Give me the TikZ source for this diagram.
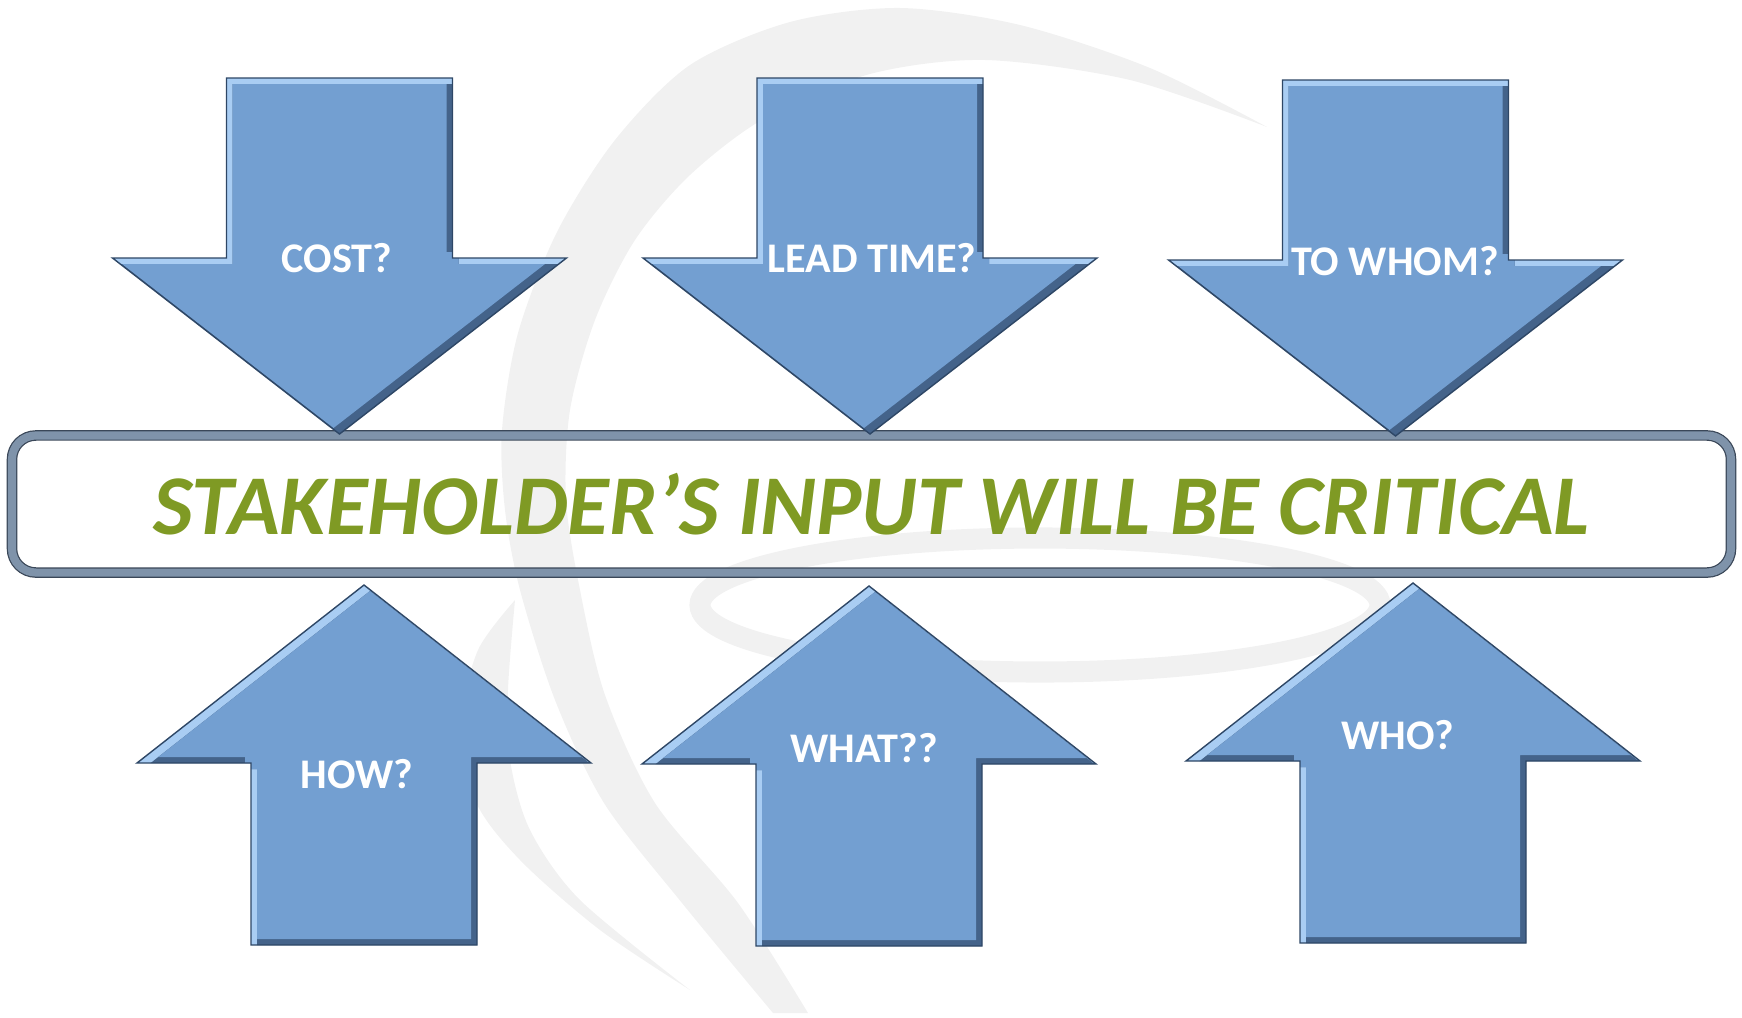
\documentclass[tikz,border=0pt]{standalone}
\usepackage{fontspec}
\setmainfont{Carlito}
\usepackage{tikz}
\usetikzlibrary{positioning}

\definecolor{arrowblue}{HTML}{739FD1}
\definecolor{arrowlight}{HTML}{A9CDF3}
\definecolor{arrowdark}{HTML}{44638A}
\definecolor{arrowedge}{HTML}{2E4766}
\definecolor{framecol}{HTML}{7F93AA}
\definecolor{framedark}{HTML}{3A4758}
\definecolor{textgreen}{HTML}{7F9A24}
\definecolor{wmark}{HTML}{F1F1F1}

\tikzstyle{qlabel} = [text=white, inner sep=0pt, font=\fontsize{12}{14}\selectfont\bfseries]
\tikzstyle{banner} = [draw=framedark, double=framecol, double distance=2.3pt, line width=0.35pt,
  rounded corners=6.8pt, minimum width=17.18cm, minimum height=1.37cm, inner sep=0pt,
  text=textgreen, font=\fontsize{24.2}{28}\selectfont\bfseries\itshape]

% arrow outlines, origin at the middle of the wing line
\def\dnarrowpath{(-113,-180) -- (113,-180) -- (113,0) -- (227,0) -- (0,176) -- (-227,0) -- (-113,0) -- cycle}
\def\uparrowpath{(-113,182) -- (113,182) -- (113,0) -- (227,0) -- (0,-178) -- (-227,0) -- (-113,0) -- cycle}

\tikzset{
  pics/bevelarrow/.style={code={
    \begin{scope}
      \clip #1;
      \fill[arrowlight] #1;
      \fill[arrowdark, shift={(6,6)}] #1;
      \begin{scope}
        \clip[shift={(6,6)}] #1;
        \fill[arrowblue, shift={(-6,-6)}] #1;
      \end{scope}
    \end{scope}
    \draw[arrowedge, line width=0.4pt] #1;
  }}
}

\begin{document}
\begin{tikzpicture}[x=0.01cm, y=-0.01cm]
    \useasboundingbox (0,0) rectangle (1742,1018);
    % watermark
    \fill[wmark] plot[smooth] coordinates {(1267,127) (1150,68) (1020,25) (900,8) (790,22) (690,65) (615,140) (557,232) (518,333) (502,430) (505,510) (520,590) (555,700) (604,803) (682,903) (773,1013)}
        -- plot[smooth] coordinates {(808,1013) (738,903) (655,803) (605,695) (580,590) (566,500) (570,410) (595,320) (635,240) (690,175) (765,118) (870,74) (985,60) (1130,80) (1267,127)} -- cycle;
    \fill[wmark] plot[smooth] coordinates {(515,600) (478,650) (462,720) (475,800) (520,860) (600,930) (690,990)}
        -- plot[smooth] coordinates {(690,990) (580,900) (530,830) (510,760) (508,690) (515,600)} -- cycle;
    \draw[wmark, line width=6pt] (1040,605) ellipse [x radius=340, y radius=67];

    \node[banner] (banner) at (871.5,504) {STAKEHOLDER’S INPUT WILL BE CRITICAL};

    \pic at (339.5,258) {bevelarrow=\dnarrowpath};
    \pic at (870,258) {bevelarrow=\dnarrowpath};
    \pic at (1395.5,260) {bevelarrow=\dnarrowpath};
    \pic at (364,763) {bevelarrow=\uparrowpath};
    \pic at (869,764) {bevelarrow=\uparrowpath};
    \pic at (1413,761) {bevelarrow=\uparrowpath};

    \node[qlabel] (cost) at (337,258) {COST?};
    \node[qlabel] (leadtime) at (872,258) {LEAD TIME?};
    \node[qlabel] (towhom) at (1395,261) {TO WHOM?};
    \node[qlabel] (how) at (357,774) {HOW?};
    \node[qlabel] (what) at (864,748) {WHAT??};
    \node[qlabel] (who) at (1398,735) {WHO?};
\end{tikzpicture}
\end{document}
